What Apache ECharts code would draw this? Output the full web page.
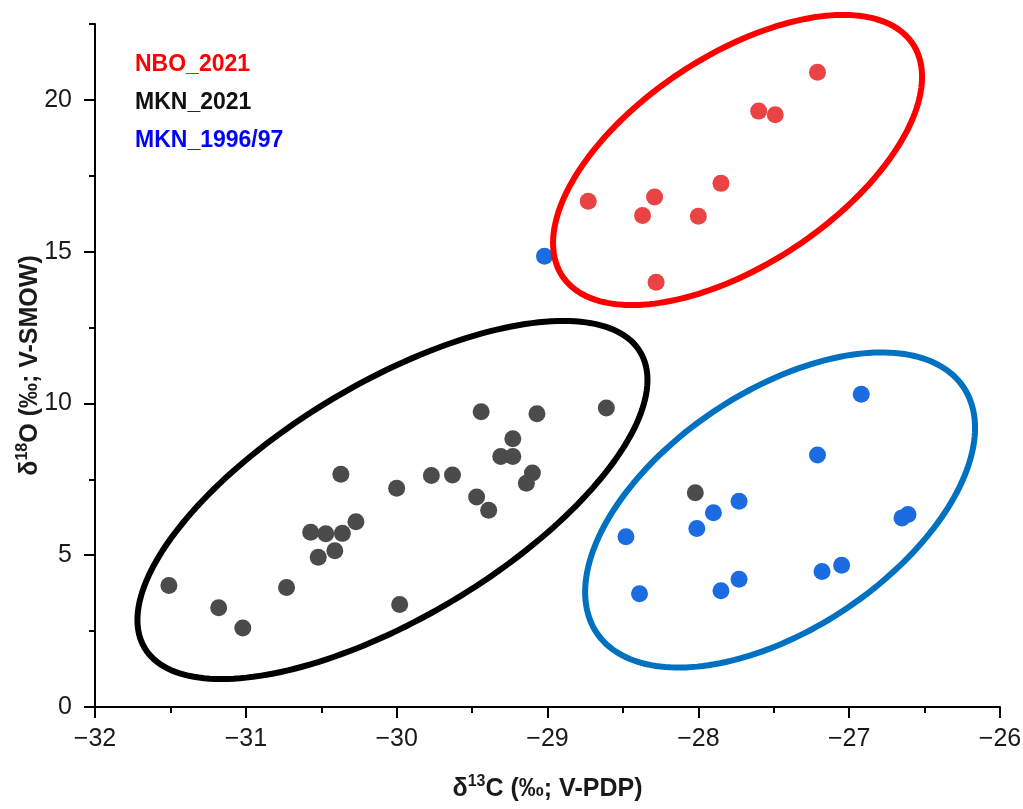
<!DOCTYPE html>
<html>
<head>
<meta charset="utf-8">
<script src="https://cdn.jsdelivr.net/npm/echarts@6/dist/echarts.min.js"></script>
<style>
html,body{margin:0;padding:0;background:#fff;}
#chart{width:1023px;height:809px;}
</style>
</head>
<body>
<div id="chart"></div>
<script>
// ---- data ----
const seriesNames = ['NBO_2021', 'MKN_2021', 'MKN_1996/97'];

const nboX = [-27.21, -27.60, -27.49, -27.85, -28.29, -28.73, -28.37, -28.00, -28.28];
const nboY = [20.91, 19.63, 19.51, 17.25, 16.80, 16.66, 16.19, 16.17, 13.99];

const mkn21X = [-29.44, -29.07, -28.61, -29.23, -29.31, -29.23, -29.10, -29.14, -30.37, -30.00,
                -29.77, -29.63, -29.47, -29.39, -30.27, -30.57, -30.47, -30.36, -30.41, -30.52,
                -31.51, -30.73, -31.18, -31.02, -29.98, -28.02];
const mkn21Y = [9.73, 9.66, 9.85, 8.84, 8.25, 8.25, 7.71, 7.37, 7.67, 7.21,
                7.63, 7.64, 6.92, 6.48, 6.10, 5.76, 5.71, 5.72, 5.15, 4.93,
                4.00, 3.94, 3.27, 2.60, 3.38, 7.06];

const mkn96X = [-26.92, -27.21, -27.73, -27.90, -28.01, -28.48, -26.61, -26.65, -27.05, -27.18,
                -27.73, -27.85, -28.39, -29.02];
const mkn96Y = [10.30, 8.30, 6.78, 6.40, 5.88, 5.61, 6.34, 6.23, 4.67, 4.46,
                4.21, 3.83, 3.73, 14.85];

const xTicks = [-32, -31, -30, -29, -28, -27, -26];
const yMajorTicks = [0, 5, 10, 15, 20];
const yMinorTicks = [2.5, 7.5, 12.5, 17.5, 22.5];

// ellipse annotations in data units: centre and two conjugate semi-axis vectors
const ellipseNBO = {cx: -27.740, cy: 18.02, ux: 1.162, uy: 3.822, vx: -0.382, vy: 2.869};
const ellipseMKN21 = {cx: -30.028, cy: 6.82, ux: 1.643, uy: 4.874, vx: -0.399, vy: 3.321};
const ellipseMKN96 = {cx: -27.458, cy: 6.49, ux: 1.216, uy: 4.045, vx: -0.438, vy: 3.252};

// ---- chart ----
function pairs(xs, ys) { return xs.map((x, i) => [x, ys[i]]); }

function ellipseSeries(e, color) {
  return {
    type: 'custom',
    coordinateSystem: 'cartesian2d',
    silent: true,
    clip: false,
    z: 5,
    data: [[e.cx, e.cy]],
    renderItem: function (params, api) {
      const pts = [];
      const n = 200;
      for (let i = 0; i <= n; i++) {
        const t = i / n * 2 * Math.PI;
        pts.push(api.coord([
          e.cx + Math.cos(t) * e.ux + Math.sin(t) * e.vx,
          e.cy + Math.cos(t) * e.uy + Math.sin(t) * e.vy
        ]));
      }
      return {type: 'polygon', shape: {points: pts}, style: {fill: 'none', stroke: color, lineWidth: 6}};
    }
  };
}

const FONT = 'Liberation Sans, Arial, sans-serif';
const fmt = v => String(v).replace('-', '\u2212');
const titleRich = {
  a: {fontSize: 25, fontWeight: 'bold', fontFamily: FONT, color: '#1a1a1a', lineHeight: 30},
  s: {fontSize: 16, fontWeight: 'bold', fontFamily: FONT, color: '#1a1a1a', lineHeight: 16, verticalAlign: 'top'}
};

const chart = echarts.init(document.getElementById('chart'), null, {renderer: 'canvas'});
chart.setOption({
  animation: false,
  backgroundColor: '#fff',
  grid: {left: 95, right: 23, top: 24, bottom: 102, containLabel: false, outerBoundsMode: 'none'},
  legend: {
    orient: 'vertical', left: 124, top: 48,
    itemWidth: 1, itemHeight: 1, itemGap: 15, icon: 'none', selectedMode: false,
    textStyle: {fontSize: 23, fontWeight: 'bold', fontFamily: FONT},
    data: [
      {name: seriesNames[0], textStyle: {color: '#ff0000'}},
      {name: seriesNames[1], textStyle: {color: '#111111'}},
      {name: seriesNames[2], textStyle: {color: '#0000ff'}}
    ]
  },
  xAxis: {
    type: 'value', min: xTicks[0], max: xTicks[xTicks.length - 1], interval: 1,
    axisLine: {show: true, onZero: false, lineStyle: {color: '#000', width: 2}},
    axisTick: {show: true, length: 11, lineStyle: {color: '#000', width: 2}},
    minorTick: {show: true, splitNumber: 2, length: 6, lineStyle: {color: '#000', width: 2}},
    splitLine: {show: false},
    axisLabel: {fontSize: 25, color: '#1a1a1a', fontFamily: FONT, margin: 20, formatter: fmt},
    name: '{a|δ}{s|13}{a|C (‰; V-PDP)}',
    nameLocation: 'middle', nameGap: 67, nameMoveOverlap: false,
    nameTextStyle: {rich: titleRich}
  },
  yAxis: [{
    type: 'value', min: 0, max: 22.5, interval: 2.5, position: 'left',
    axisLine: {show: true, onZero: false, lineStyle: {color: '#000', width: 2}},
    axisTick: {show: true, length: 11, customValues: yMajorTicks, lineStyle: {color: '#000', width: 2}},
    splitLine: {show: false},
    axisLabel: {fontSize: 25, color: '#1a1a1a', fontFamily: FONT, margin: 23, customValues: yMajorTicks, formatter: fmt},
    name: '{a|δ}{s|18}{a|O (‰; V-SMOW)}',
    nameLocation: 'middle', nameRotate: 90, nameGap: 50, nameMoveOverlap: false,
    nameTextStyle: {rich: titleRich}
  }, {
    type: 'value', min: 0, max: 22.5, interval: 2.5, position: 'left',
    axisLine: {show: false},
    axisTick: {show: true, length: 6, customValues: yMinorTicks, lineStyle: {color: '#000', width: 2}},
    axisLabel: {show: false},
    splitLine: {show: false}
  }],
  series: [
    {name: seriesNames[0], type: 'scatter', symbolSize: 17, z: 3, itemStyle: {color: '#e94343', opacity: 1}, data: pairs(nboX, nboY)},
    {name: seriesNames[1], type: 'scatter', symbolSize: 17, z: 3, itemStyle: {color: '#4b4b4b', opacity: 1}, data: pairs(mkn21X, mkn21Y)},
    {name: seriesNames[2], type: 'scatter', symbolSize: 17, z: 3, itemStyle: {color: '#1b6ce0', opacity: 1}, data: pairs(mkn96X, mkn96Y)},
    ellipseSeries(ellipseNBO, '#ff0000'),
    ellipseSeries(ellipseMKN21, '#000000'),
    ellipseSeries(ellipseMKN96, '#0070c0')
  ]
});
</script>
</body>
</html>
